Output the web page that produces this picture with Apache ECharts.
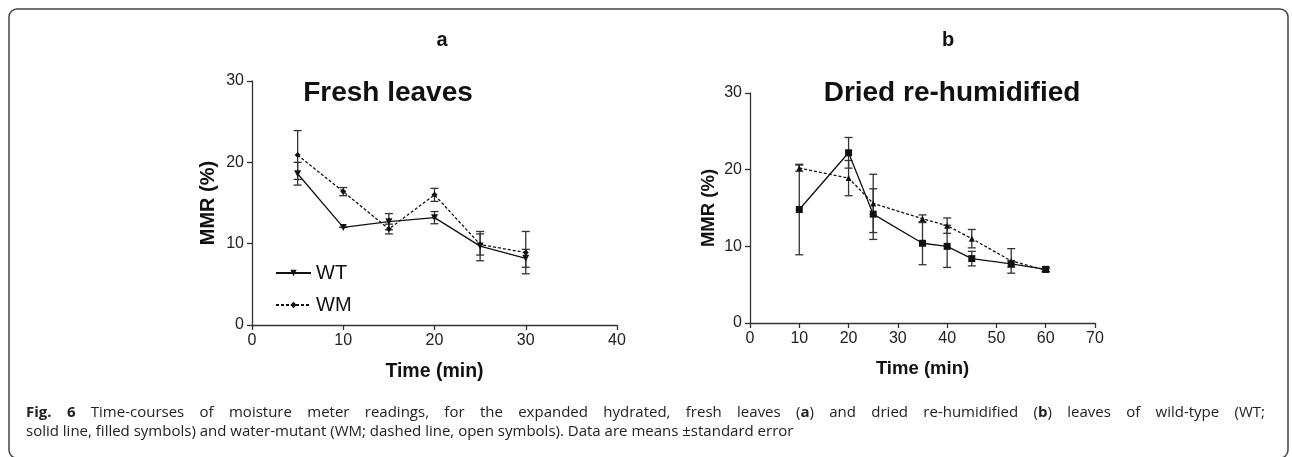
<!DOCTYPE html>
<html>
<head>
<meta charset="utf-8">
<script src="https://cdn.jsdelivr.net/npm/echarts@6/dist/echarts.min.js"></script>
<style>
  html, body { margin: 0; padding: 0; background: #fff; }
  #chart { width: 1292px; height: 457px; }
</style>
</head>
<body>
<div id="chart"></div>
<script>
  // panel a - fresh leaves
  const timeA = [5, 10, 15, 20, 25, 30];
  const wtA = [18.6, 12.0, 12.7, 13.2, 9.7, 8.2];
  const wtErrA = [1.4, 0, 1.0, 0.75, 1.8, 1.1];
  const wmA = [20.9, 16.4, 11.8, 16.0, 9.9, 8.9];
  const wmErrA = [3.0, 0.5, 0.6, 0.8, 1.3, 2.6];

  // panel b - dried re-humidified
  const timeB = [10, 20, 25, 35, 40, 45, 53, 60];
  const wtB = [14.8, 22.2, 14.2, 10.4, 10.0, 8.4, 7.7, 7.0];
  const wtErrB = [5.9, 2.0, 3.3, 2.8, 2.75, 0.95, 0.4, 0.3];
  const wmB = [20.2, 18.9, 15.6, 13.6, 12.7, 11.0, 8.1, 6.9];
  const wmErrB = [0.4, 2.3, 3.8, 0.5, 1.0, 1.2, 1.6, 0.2];

  const yTicks = [0, 10, 20, 30];
  const xTicksA = [0, 10, 20, 30, 40];
  const xTicksB = [0, 10, 20, 30, 40, 50, 60, 70];

  const captionLine1 = '{b|Fig.} {b|6} Time-courses of moisture meter readings, for the expanded hydrated, fresh leaves ({b|a}) and dried re-humidified ({b|b}) leaves of wild-type (WT;';
  const captionLine2 = 'solid line, filled symbols) and water-mutant (WM; dashed line, open symbols). Data are means \u00b1standard error';

  const axisColor = '#333';
  const sans = "'Liberation Sans', Arial, sans-serif";
  const capFont = "'Open Sans', sans-serif";
  const tickFont = { color: '#222', fontSize: 16, fontFamily: sans };

  function pairs(xs, ys) {
    return xs.map((x, i) => [x, ys[i]]);
  }
  function errs(xs, ys, es) {
    return xs.map((x, i) => [x, ys[i] - es[i], ys[i] + es[i]]);
  }

  function errorBar(gi, data, cap) {
    return {
      type: 'custom',
      xAxisIndex: gi,
      yAxisIndex: gi,
      silent: true,
      z: 1,
      data: data,
      renderItem: function (params, api) {
        const x = api.value(0);
        const lo = api.coord([x, api.value(1)]);
        const hi = api.coord([x, api.value(2)]);
        const st = { stroke: axisColor, lineWidth: 1.3 };
        return {
          type: 'group',
          children: [
            { type: 'line', shape: { x1: lo[0], y1: lo[1], x2: hi[0], y2: hi[1] }, style: st },
            { type: 'line', shape: { x1: lo[0] - cap, y1: lo[1], x2: lo[0] + cap, y2: lo[1] }, style: st },
            { type: 'line', shape: { x1: hi[0] - cap, y1: hi[1], x2: hi[0] + cap, y2: hi[1] }, style: st }
          ]
        };
      }
    };
  }

  function lineSeries(name, gi, data, symbol, size, dashed, rotate) {
    return {
      name: name,
      type: 'line',
      xAxisIndex: gi,
      yAxisIndex: gi,
      data: data,
      symbol: symbol,
      symbolSize: size,
      symbolRotate: rotate || 0,
      showAllSymbol: true,
      z: 3,
      itemStyle: { color: '#111' },
      lineStyle: { color: '#111', width: 1.3, type: dashed ? [3, 2] : 'solid' },
      animation: false
    };
  }

  function xAxis(gi, max, ticks, gap, fs) {
    return {
      type: 'value',
      gridIndex: gi,
      min: 0,
      max: max,
      interval: 10,
      name: 'Time (min)',
      nameLocation: 'middle',
      nameGap: gap,
      nameMoveOverlap: false,
      nameTextStyle: { fontSize: fs, fontWeight: 'bold', color: '#111', fontFamily: sans },
      axisLine: { show: true, lineStyle: { color: axisColor, width: 1.3 } },
      axisTick: { show: true, length: 5, lineStyle: { color: axisColor, width: 1.3 } },
      axisLabel: Object.assign({ margin: 8, formatter: v => ticks.indexOf(v) >= 0 ? String(v) : '' }, tickFont),
      splitLine: { show: false }
    };
  }

  function yAxis(gi, gap, fs) {
    return {
      type: 'value',
      gridIndex: gi,
      min: 0,
      max: 30,
      interval: 10,
      name: 'MMR (%)',
      nameLocation: 'middle',
      nameGap: gap,
      nameMoveOverlap: false,
      nameRotate: 90,
      nameTextStyle: { fontSize: fs, fontWeight: 'bold', color: '#111', fontFamily: sans },
      axisLine: { show: true, lineStyle: { color: axisColor, width: 1.3 } },
      axisTick: { show: true, length: 5, lineStyle: { color: axisColor, width: 1.3 } },
      axisLabel: Object.assign({ margin: 8, formatter: v => yTicks.indexOf(v) >= 0 ? String(v) : '' }, tickFont),
      splitLine: { show: false }
    };
  }

  // justified first caption line: one text element per word
  const measureCtx = document.createElement('canvas').getContext('2d');
  function wordWidth(w) {
    let total = 0;
    w.split(/(\{b\|[^}]*\})/).forEach(part => {
      if (!part) return;
      const m = part.match(/^\{b\|([^}]*)\}$/);
      measureCtx.font = (m ? 'bold ' : '') + '15px ' + capFont;
      total += measureCtx.measureText(m ? m[1] : part).width;
    });
    return total;
  }
  function justifiedLine(text, x0, x1, y) {
    const words = text.split(' ');
    const widths = words.map(wordWidth);
    const sum = widths.reduce((a, b) => a + b, 0);
    const gap = (x1 - x0 - sum) / (words.length - 1);
    let x = x0;
    return words.map((w, i) => {
      const el = {
        type: 'text',
        x: x,
        y: y,
        silent: true,
        style: {
          text: w,
          fontSize: 15,
          fontFamily: capFont,
          fill: '#222',
          verticalAlign: 'middle',
          rich: { b: { fontWeight: 'bold', fontSize: 15, fontFamily: capFont, fill: '#222' } }
        }
      };
      x += widths[i] + gap;
      return el;
    });
  }

  const chart = echarts.init(document.getElementById('chart'), null, { renderer: 'canvas' });

  chart.setOption({
    backgroundColor: '#fff',
    animation: false,
    grid: [
      { left: 252, top: 81, width: 365, height: 244 },
      { left: 750, top: 93, width: 345, height: 230 }
    ],
    xAxis: [xAxis(0, 40, xTicksA, 37, 19.5), xAxis(1, 70, xTicksB, 36, 18.5)],
    yAxis: [yAxis(0, 34, 20), yAxis(1, 32, 18.5)],
    legend: {
      left: 270,
      top: 258,
      orient: 'vertical',
      itemWidth: 35,
      itemHeight: 8,
      itemGap: 12,
      data: [{ name: 'WT' }, { name: 'WM' }],
      textStyle: { fontSize: 20, color: '#111', fontFamily: sans }
    },
    title: [
      { text: 'a', left: 442, top: 30, textAlign: 'center', padding: 0, textStyle: { fontSize: 20, fontWeight: 'bold', color: '#111', fontFamily: sans } },
      { text: 'b', left: 948, top: 30, textAlign: 'center', padding: 0, textStyle: { fontSize: 20, fontWeight: 'bold', color: '#111', fontFamily: sans } },
      { text: 'Fresh leaves', left: 388, top: 79, textAlign: 'center', padding: 0, textStyle: { fontSize: 28, fontWeight: 'bold', color: '#111', fontFamily: sans } },
      { text: 'Dried re-humidified', left: 952, top: 79, textAlign: 'center', padding: 0, textStyle: { fontSize: 28, fontWeight: 'bold', color: '#111', fontFamily: sans } }
    ],
    graphic: [
      {
        type: 'rect',
        shape: { x: 9, y: 9, width: 1279, height: 449, r: 8 },
        style: { fill: 'none', stroke: '#444', lineWidth: 1.5 },
        silent: true
      }
    ].concat(justifiedLine(captionLine1, 26, 1265, 413), [
      {
        type: 'text',
        x: 26,
        y: 432,
        silent: true,
        style: {
          text: captionLine2,
          fontSize: 15,
          fontFamily: capFont,
          fill: '#222',
          verticalAlign: 'middle'
        }
      }
    ]),
    series: [
      errorBar(0, errs(timeA, wtA, wtErrA), 4),
      errorBar(0, errs(timeA, wmA, wmErrA), 4),
      lineSeries('WT', 0, pairs(timeA, wtA), 'triangle', 7, false, 180),
      lineSeries('WM', 0, pairs(timeA, wmA), 'diamond', 6, true),
      errorBar(1, errs(timeB, wtB, wtErrB), 4),
      errorBar(1, errs(timeB, wmB, wmErrB), 4),
      lineSeries('WT b', 1, pairs(timeB, wtB), 'rect', 7, false),
      lineSeries('WM b', 1, pairs(timeB, wmB), 'triangle', 6, true)
    ]
  });
</script>
</body>
</html>
